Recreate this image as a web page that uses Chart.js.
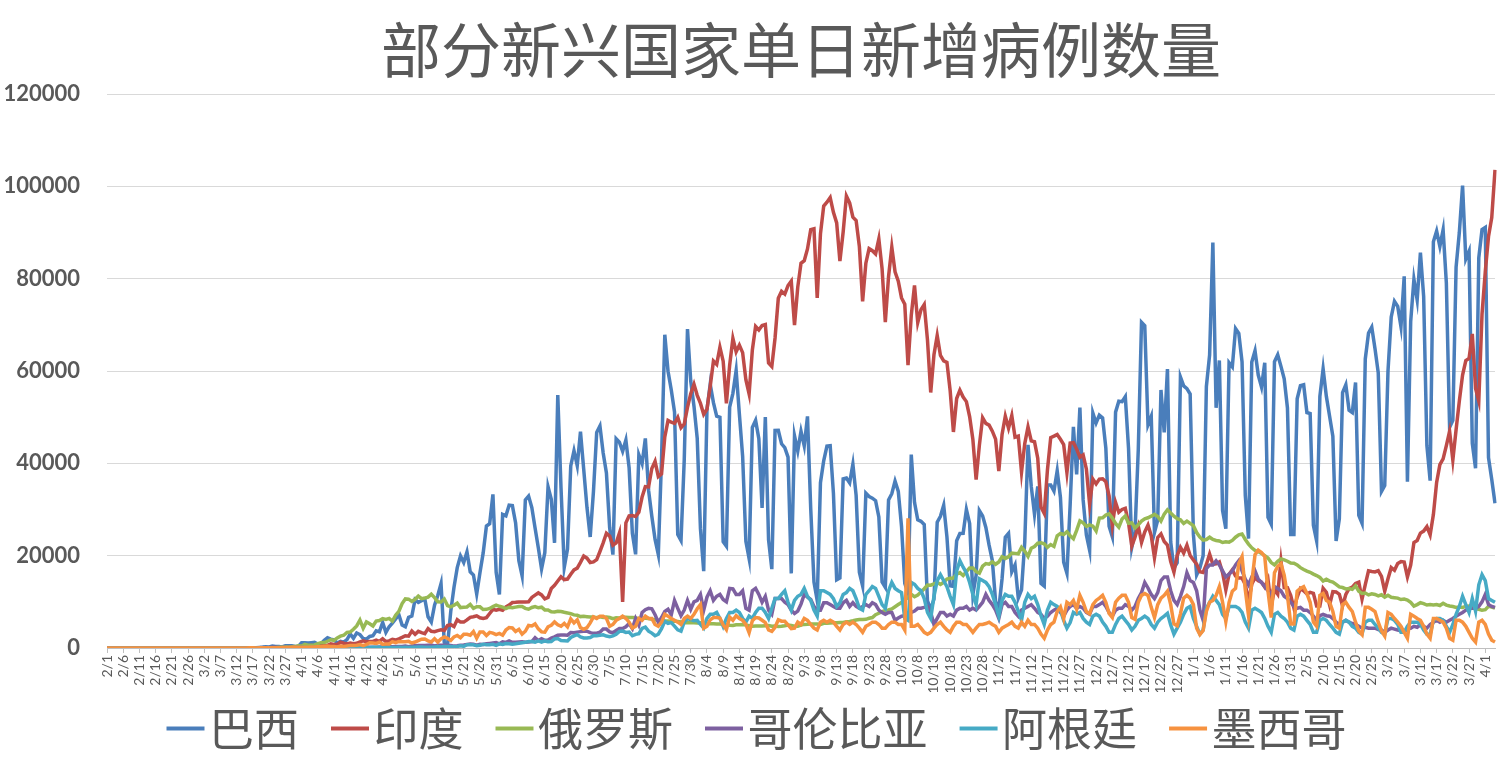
<!DOCTYPE html>
<html><head><meta charset="utf-8">
<script src="https://cdn.jsdelivr.net/npm/chart.js@4.4.1/dist/chart.umd.min.js"></script>
<style>html,body{margin:0;padding:0;background:#fff;overflow:hidden}</style>
</head><body>
<canvas id="c" width="1507" height="761"></canvas>
<script>
const chartTitle = '部分新兴国家单日新增病例数量';
const seriesNames = ['巴西','印度','俄罗斯','哥伦比亚','阿根廷','墨西哥'];
const seriesColors = ['#4A7EBB','#BE4B48','#98B954','#7D60A0','#46AAC5','#F69240'];
const yTicks = [0,20000,40000,60000,80000,100000,120000];

const brazil = [
0,0,0,0,0,0,0,0,0,0, 0,0,0,0,0,0,0,0,0,0, 0,0,0,0,0,1,0,0,1,
0,1,0,1,4,5,6,5,0,12, 0,18,25,21,23,79,34,57,137,193, 283,224,418,345,310,232,482,502,487,352, 323,
1138,1119,1074,1146,1222,852,926,1661,2210,1930, 1781,1089,1442,1261,1832,3058,2105,3257,2917,2055, 1927,2498,2678,3735,3503,5514,3379,4613,5385,6276,
7218,4970,4588,6633,6935,10503,9888,10222,10611,6760, 5632,9258,11385,13944,1200,600,7938,13140,17408,19951, 18508,20803,16508,15813,11687,16324,20599,26417,26928,33274, 16409,
11598,28936,28633,30925,30830,27075,18912,15654,32091,32913, 30412,25982,21704,17110,20647,34918,32188,22765,54771,34666, 17459,21432,39436,42725,39483,46860,38693,30476,24052,33846,
46712,48105,42223,37923,26051,20229,45305,44571,42619,45048, 39023,24831,20286,41857,39924,45403,34177,28532,23529,20257, 41008,67860,59961,55891,51147,24578,23284,40816,69074,57837, 52383,
45392,25800,16641,51603,57152,53139,50230,49970,23010,22048, 52160,55155,60091,50644,41576,23101,19373,47784,49298,45323, 30355,50032,23421,17078,47134,47161,44235,43412,41350,16158, 45961,
42659,46934,43773,50163,30168,14279,10273,35816,40557,43718, 43812,33523,14768,15155,36653,36820,35757,39797,33057,16389, 13439,33536,32817,32445,31911,28378,14318,13155,32058,33413,
36157,33922,26310,13969,11946,41906,31553,27750,27444,26749, 10220,8426,10573,27235,28523,30914,24062,13493,13345,23227, 24818,24858,30026,26979,11585,15726,29787,28629,26106,22282, 18947,
10100,8501,15000,23976,24818,16500,18000,10800,12600,23000, 44000,35000,29000,35000,14000,13400,35300,35300,34000,38400, 32600,18600,16200,31100,47898,37614,52088,32072,24468,21138,
50909,48746,50434,49863,43307,26363,24091,51088,53453,53347, 54428,43225,21825,25193,42889,70574,69826,48346,50177,25019, 27728,55890,46696,60430,22967,17341,18479,58718,56773,56200, 55000,
24605,15827,17341,20006,56648,63504,87843,52035,62290,29792, 25822,61804,60899,69198,68138,62000,33040,23671,61963,64385, 59119,56552,61800,28300,26800,62000,63500,61000,58300,52000, 24600,
24591,54000,56800,57000,51000,50800,26600,23200,54500,60500, 54500,50200,45900,23200,28000,55300,57000,51500,51000,57500, 28700,27000,62600,68200,69500,64800,59600,33900,
35200,59925,71704,75102,74000,69609,80500,36000,70700,79876, 75412,85663,76178,43812,36239,88000,90303,86982,90570,79069, 47774,49293,82493,89992,100158,84245,85948,44326,38927,84494, 90638,
91097,41218,36500,31359
];

const india = [
1,1,1,0,0,0,0,0,0,0, 0,0,0,0,0,0,0,0,0,0, 0,0,0,0,0,0,0,0,0,
0,2,1,22,2,1,3,5,9,15, 8,10,10,12,11,23,14,34,26,57, 80,76,110,108,88,97,151,165,233,199, 237,
386,535,478,525,505,704,508,485,591,896, 768,758,1243,1034,883,1061,922,1007,1317,1553, 1336,1383,1409,1684,1429,1990,1396,1543,1897,1718,
1993,2293,2644,2553,3656,2971,3602,3344,3113,4213, 3607,3524,3763,3942,3787,4864,5050,4630,6147,5611, 5609,6088,6654,6767,6977,6535,6387,6566,7466,8380, 8171,
8392,8171,8909,9304,9851,9887,9971,9983,9987,9996, 10956,11458,11929,11502,10667,10974,12881,13586,14516,15413, 14821,14933,15968,16922,17296,18552,19906,19459,18522,18653,
19148,20903,22771,24850,24248,22252,22752,24879,10000,27114, 28637,28701,28498,29429,32695,34956,34884,38902,40425,37148, 37724,45720,49310,48916,48661,49931,47703,48513,52123,55079, 57118,
54735,52972,50629,51706,56626,62170,61455,65156,62117,53016, 61252,67066,64142,65609,63986,58108,55018,64572,69672,68900, 69876,70067,61749,60975,67151,75760,77266,76665,78512,79457, 69921,
78169,83341,83883,86432,90633,90802,75809,89706,95735,96551, 97570,94372,92071,83809,90123,97894,96424,93337,92605,86961, 75083,83347,86508,86052,85362,88600,82170,70589,80472,86821,
81484,79476,75829,74442,61267,72049,78524,70496,73272,74383, 66732,55342,63509,67708,63371,62212,61871,55722,46790,54044, 55839,54366,53370,50129,45149,36470,43893,49881,48648,48268, 46963,
45231,38310,46253,50210,47638,50356,45674,45903,38073,44281, 47905,44878,44684,41100,30548,29164,38617,45576,45882,46232, 45209,44059,37975,44376,44489,43082,41322,41810,38772,31118,
36604,35551,36595,36652,36011,32981,26567,31521,29398,30006, 30254,27071,22065,24010,26382,22890,25153,26624,24337,19556, 23950,24712,23067,22273,18732,16432,20021,21822,20549,22272, 20036,
19079,18177,16504,16375,18088,20346,18139,18222,18645,16311, 12584,15968,16946,15590,15158,15144,13788,10064,13823,15223, 14545,14256,13203,14849,9102,12689,11666,18855,13083,13052, 11427,
8635,11039,12899,12408,11713,12059,11831,9110,9093,12923, 12060,9309,12194,12143,11649,9121,11610,12881,13193,13993, 14264,10584,13742,16738,16577,16488,16752,15510,
12286,14989,17407,16838,18327,18711,18599,15388,17921,22854, 23285,24882,25320,26291,24492,28903,35871,39726,40953,43846, 46951,40715,47262,53476,59118,62258,62714,68020,56211,53480, 72330,
81466,89129,93249,103558
];

const russia = [
2,0,0,0,0,0,0,0,0,0, 0,0,0,0,0,0,0,0,0,0, 0,0,0,0,0,0,0,0,0,
0,1,0,0,1,6,0,3,0,3, 8,0,17,14,4,30,21,33,52,54, 53,61,71,57,163,182,196,228,270,302, 501,
440,771,601,582,658,954,1154,1175,1459,1786, 1667,2186,2558,2774,3388,3448,4070,4785,6060,4268, 5642,5236,4774,5849,5966,6361,6198,6411,5841,7099,
7933,9623,10633,10581,10102,10559,11231,10699,10817,11012, 11656,10899,10028,9974,10598,9200,8926,9263,9709,8764, 8849,8894,9434,8599,8946,8915,8338,8371,8572,8952, 9268,
9035,8863,8536,8831,8726,8855,8984,8985,8595,8404, 8779,8987,8706,8835,8246,8248,7843,7790,7972,7889, 7728,7600,7425,7176,7113,6800,6852,6791,6719,6693,
6556,6760,6632,6736,6611,6368,6562,6509,6635,6636, 6611,6615,6537,6248,6422,6428,6406,6234,6109,5940, 5842,5862,5848,5811,5871,5765,5635,5475,5509,5482, 5462,
5427,5462,5159,5204,5267,5241,5212,5189,5118,5102, 4945,4892,5041,5061,5065,4969,4839,4718,4790,4767, 4785,4838,4852,4696,4744,4676,4711,4829,4980,4897, 4729,
4729,4952,5110,5130,5195,5205,5185,5099,5363,5363, 5406,5449,5488,5509,5529,5670,5762,5905,6065,6148, 6196,6215,6431,6595,7212,7523,7867,8135,8232,8481,
8945,9412,9859,10499,10888,11615,11115,11493,12126,12846, 13634,13592,13868,14231,13754,14231,14922,15099,15150,15982, 16319,15700,16521,17347,17340,16550,16202,17717,18283,18140, 18665,
18140,18648,19768,19404,19768,20582,20498,20396,21798,20977, 19851,21608,21983,22702,22778,22572,21798,22410,22000,24318, 24822,24581,25173,24326,23675,25487,27543,27100,26338,26683,
26402,25345,28145,28209,28782,29039,28137,27000,26190,27927, 28585,27000,27100,26000,26689,27500,28000,28214,28552,28948, 28500,27500,29000,29935,29258,28552,28000,27787,27000,27500, 27000,
26500,25000,24000,23351,23500,24000,23500,23300,23200,22851, 23000,22934,23300,24000,24500,24700,23500,22500,21700,21150, 20900,20500,20000,19500,18500,18000,18800,19300,19100,18800, 18400,
18359,18000,17400,17000,16643,16400,16000,15700,15300,14494, 14900,14500,14300,13800,13233,13100,12800,12900,12700,13447, 12300,11800,11900,11500,11749,11600,11300,11534,
11024,11407,11000,10900,10800,10500,10600,10400,9900,9079, 9400,9800,9600,9299,9400,9300,9400,9200,9700,9299, 9100,9000,8800,8900,8769,9000,9100,8800,8500,8400, 8162,
8294,9016,8885,8646
];

const colombia = [
0,0,0,0,0,0,0,0,0,0, 0,0,0,0,0,0,0,0,0,0, 0,0,0,0,0,0,0,0,0,
0,0,0,0,0,1,0,0,2,0, 6,0,7,8,10,11,20,28,15,35, 14,35,73,75,92,21,21,95,94,96, 96,
104,76,62,74,130,108,87,66,84,143, 94,57,97,71,67,80,105,154,143,70, 233,154,169,164,198,241,304,275,262,313,
344,314,422,297,411,490,518,538,557,597, 640,454,604,605,580,549,564,413,474,620, 637,752,856,811,631,805,758,914,1003,1090, 1164,
911,1343,1223,1515,1237,1232,1299,1365,1266,1325, 1381,2214,1614,1998,1677,1726,2146,2410,2773,2838, 2839,2779,3327,3301,3444,3549,3621,3643,3314,3171,
3200,3400,4100,4100,3500,3300,3800,4200,4200,4600, 5300,4200,6400,4950,7700,8300,8600,8500,7200,5600, 6600,7900,8400,7200,10300,8600,7000,8200,10300,8400, 10000,
10300,11600,8200,11000,12400,10300,11200,11600,10500,10000, 12900,12800,11600,11600,12400,8600,8200,12400,12900,11600, 9900,11200,8200,7300,10700,10700,10700,9900,9400,8200, 7500,
8000,9500,11600,11000,10500,9000,8200,8200,9800,9800, 9400,9000,8600,8600,9800,10300,9000,9800,9000,8600, 9000,9400,9000,9800,9400,8200,7700,7300,7700,7700,
6000,6500,6900,7000,7300,7700,8000,8600,8600,8800, 9000,7700,5100,6400,7700,7700,6900,7300,6900,8200, 8600,8600,9000,8200,8600,8200,9000,9900,11600,10300, 9400,
8200,6400,9400,9900,9000,9000,7700,6900,8200,8600, 9000,9400,8600,7700,7300,6400,6900,7700,8200,8600, 7700,6900,8200,9000,9400,8600,9000,8600,7700,7300,
9000,9000,9400,9900,9000,7700,6900,8200,8600,8600, 9400,9000,8200,9000,10700,12000,14200,13000,11600,10700, 12000,14600,15400,15400,12400,10300,9400,11200,13300,16300, 14600,
14200,12400,8200,6000,17200,18000,18000,18900,18000,16700, 15400,16000,16700,18000,18900,16700,14900,13700,15400,16700, 14900,14200,13300,12400,11600,13300,12900,12400,11200,10700, 9900,
9000,8600,8800,8200,8200,7700,6900,6000,7000,7300, 7000,6900,6400,5600,5100,5600,6000,5600,5300,5100, 4700,4300,4500,4300,4300,4300,4000,3900,
3400,3900,4300,4100,3900,3700,3400,4300,4300,4700, 4500,5000,4700,4300,5100,5600,6000,5600,6000,5600, 6000,6400,6900,7300,7700,8200,8600,8600,8600,9000, 10000,
11600,9400,9000,8800
];

const argentina = [
0,0,0,0,0,0,0,0,0,0, 0,0,0,0,0,0,0,0,0,0, 0,0,0,0,0,0,0,0,0,
0,0,1,0,1,6,1,2,5,2, 2,12,3,11,11,9,14,14,18,30, 31,35,41,36,87,87,101,101,55,76, 146,
88,102,73,107,123,100,133,98,94,72, 81,113,90,76,66,162,111,105,111,89, 113,122,147,164,172,118,95,137,117,130,
143,111,165,122,145,139,200,240,165,163, 145,244,316,218,318,305,344,293,349,474, 359,723,718,703,475,602,796,706,703,795, 564,
904,746,949,929,840,931,1043,1141,1226,1386, 1391,1239,1531,1282,1531,1374,1393,1958,2060,1634, 1581,1531,2285,2606,2886,2401,2189,2146,2262,2667,
2667,2744,2845,2590,2439,2632,2979,3604,3663,3367, 3449,2657,2958,3099,4250,4518,3645,3223,2657,2980, 4190,5782,5344,5493,4740,3937,3645,5641,6377,6134, 5929,
6000,5100,4300,6400,7300,7300,7700,6400,4700,6400, 7700,7700,8200,7700,6400,5600,6900,6400,7700,8600, 8600,7700,6400,8600,10700,10700,11600,12400,9900,8200, 10300,
11200,11600,12900,11200,10300,8200,6900,12400,12400,12000, 11600,10700,9000,9800,11600,12000,12900,12400,10700,8600, 8200,11600,12400,13300,12900,11200,9400,8600,12400,14200,
12900,12400,12000,6400,6000,14200,13800,12900,12400,10700, 7700,6400,11200,14600,15900,14600,13300,11200,9400,16700, 18900,17500,16300,14200,11600,9400,15000,14600,14200,13300, 11600,
9400,6900,10300,11600,11200,11200,9900,8000,6000,9900, 11600,10700,11200,9400,7000,5100,8200,9900,9400,9000, 8200,6000,4300,5500,7700,7300,7700,6400,5600,5100,
6900,7300,6900,5600,4700,3400,3400,5100,6400,6900, 6000,5100,3900,4700,6000,6400,6900,6400,5100,4300, 5600,6400,6900,7500,5000,3000,4300,5600,7300,8600, 9000,
6400,4700,3000,3900,8600,9900,11200,10300,9400,7300, 6400,9000,9000,9000,8600,7700,5600,4300,8200,8600, 8200,7700,6400,4700,3400,7300,7700,6900,6400,5600, 4300,
3900,6900,7300,6900,6000,5100,3400,3400,6000,6400, 6000,5100,4300,3400,3000,5600,6000,5600,4700,4300, 3400,3000,5600,6000,6000,5100,4300,3400,
3000,6400,6400,6000,5100,3400,3400,4700,5600,5600, 5600,5100,3900,3000,3000,6000,6400,6400,6000,4700, 3400,5100,7300,9000,11200,9400,7700,10700,8000,13700, 15900,
14600,10700,10300,9900
];

const mexico = [
0,0,0,0,0,0,0,0,0,0, 0,0,0,0,0,0,0,0,0,0, 0,0,0,0,0,0,0,1,2,
1,0,0,1,0,0,0,0,0,0, 4,1,11,15,0,41,29,25,46,39, 48,65,49,38,70,110,122,131,145,162, 163,
178,163,186,213,202,296,253,396,418,348, 315,243,442,345,430,526,538,608,762,520, 764,1146,1089,973,1239,835,852,844,1372,1144,
1425,1349,1349,1434,1093,1301,1609,1906,1938,1562, 1305,1997,1305,1992,2409,2112,1632,2414,2713,2248, 2973,2960,2764,3562,2119,3455,3463,2697,3377,3227, 2885,
3152,2771,3891,4442,4346,3593,4038,2999,3629,4883, 4790,5222,4147,3494,3427,4599,4930,5662,5030,4717, 5343,4577,6288,5437,6104,4410,4050,4410,5432,6741,
6400,6900,6900,6400,4700,5100,6000,6400,6900,6400, 5600,4300,4700,6400,6000,6900,6400,6400,5100,4700, 5600,7300,6900,6400,6000,5600,5100,6400,6900,6400, 7300,
8500,9400,4300,4700,6100,6600,6600,6500,5000,4000, 6700,6000,7000,6400,6000,5100,3300,5900,6600,6500, 6000,5500,3900,3600,4500,6100,5800,5800,5000,4200, 4300,
5600,5100,6400,6000,5100,4300,3900,5600,6000,5600, 6000,5600,4700,3900,5100,5600,5100,5600,5100,4300, 3400,4700,5100,5600,5600,5100,4300,4300,5100,5600,
5600,5100,5100,3900,28115,4700,4700,5100,4300,3400, 3000,3400,4300,5100,5600,4700,3900,3400,4700,5600, 5600,5100,5100,4300,3400,4300,5100,5100,5300,5600, 5100,
4700,3400,4300,4700,5100,5600,4700,4300,5600,4700, 6000,5100,5100,4300,3000,2100,3900,5100,5600,7900, 8900,6400,9900,9400,10300,8400,11400,9900,7900,7400,
9400,10300,10800,11400,9900,7500,6600,9900,10800,11400, 11400,9900,6600,6200,9900,11400,11800,11400,8800,6600, 9400,10800,11400,12300,9400,5200,4800,7400,10800,11400, 10800,
9400,4300,2900,3800,7900,9900,10300,11400,13300,9900, 5700,9900,12300,12900,18300,19800,12600,7000,14200,20200, 21200,20700,19800,12300,6600,16300,17700,18300,15800,11400, 5200,
5200,12300,12900,13300,11800,9900,5600,4700,11400,11800, 10300,9900,7900,4700,4300,9400,9900,8800,7900,5600, 3700,2900,8800,8800,8400,7900,5600,3700,
2600,7700,7300,6400,5600,4700,3400,2100,7300,6900, 6400,6000,4700,3000,2100,6400,6400,6000,5600,4300, 2100,1700,6000,6000,5600,4700,3400,2100,1300,5600, 6000,
5100,3000,1700,1300
];

// category labels: one per day from 2020-02-01
const dateLabels = [];
for (let i = 0; i < brazil.length; i++) {
  const d = new Date(2020, 1, 1 + i);
  dateLabels.push((d.getMonth() + 1) + '/' + d.getDate());
}

// legend symbol: a short line placed just before the label text
function legendSymbol(color) {
  const c = document.createElement('canvas');
  c.width = 76; c.height = 8;
  const g = c.getContext('2d');
  g.strokeStyle = color; g.lineWidth = 4; g.lineCap = 'butt';
  g.beginPath(); g.moveTo(37, 4); g.lineTo(75, 4); g.stroke();
  return c;
}
const legendSymbols = seriesColors.map(legendSymbol);

const seriesData = [brazil, india, russia, colombia, argentina, mexico];
const datasets = seriesNames.map((name, k) => ({
  label: name,
  data: seriesData[k],
  borderColor: seriesColors[k],
  backgroundColor: seriesColors[k],
  borderWidth: 3.5,
  pointRadius: 0,
  tension: 0,
  fill: false,
  order: 6 - k
}));

const grey = '#595959';
new Chart(document.getElementById('c'), {
  type: 'line',
  data: { labels: dateLabels, datasets },
  options: {
    responsive: false,
    animation: false,
    events: [],
    layout: { padding: { left: 0, right: 12, top: 0, bottom: 0 } },
    plugins: {
      title: {
        display: true, text: chartTitle, fullSize: false, color: grey,
        font: { family: '"Noto Sans CJK SC", sans-serif', size: 60, weight: 'normal' },
        padding: { top: 14, bottom: 8 }
      },
      legend: {
        position: 'bottom', reverse: true,
        labels: {
          usePointStyle: true, pointStyleWidth: 38, padding: 14,
          color: grey, font: { family: '"Noto Sans CJK SC", sans-serif', size: 45 },
          generateLabels: (chart) => Chart.defaults.plugins.legend.labels.generateLabels(chart)
            .map(it => Object.assign(it, { pointStyle: legendSymbols[it.datasetIndex] }))
        }
      },
      tooltip: { enabled: false }
    },
    scales: {
      x: {
        grid: { display: true, drawOnChartArea: false, drawTicks: true, tickLength: 5, color: '#bfbfbf' },
        border: { display: true, color: '#bfbfbf' },
        ticks: {
          autoSkip: false, maxRotation: 90, minRotation: 90, padding: 2, color: grey,
          font: { family: 'Lato, sans-serif', size: 14 },
          callback: function (v, i) { return i % 5 === 0 ? this.getLabelForValue(v) : null; }
        },
        afterFit: (s) => { s.height = 44; }
      },
      y: {
        min: 0, max: 120000,
        afterBuildTicks: (s) => { s.ticks = yTicks.map(v => ({ value: v })); },
        grid: { color: '#d9d9d9', drawTicks: false, lineWidth: 1 },
        border: { display: false },
        ticks: {
          color: grey, padding: 27, font: { family: 'Lato, sans-serif', size: 22, weight: 'bold' },
          callback: (v) => String(v)
        },
        afterFit: (s) => { s.width = 107; }
      }
    }
  }
});

seriesData.forEach((a, k) => { if (a.length !== 429) throw new Error(seriesNames[k] + ' length ' + a.length); });
</script>
</body></html>
